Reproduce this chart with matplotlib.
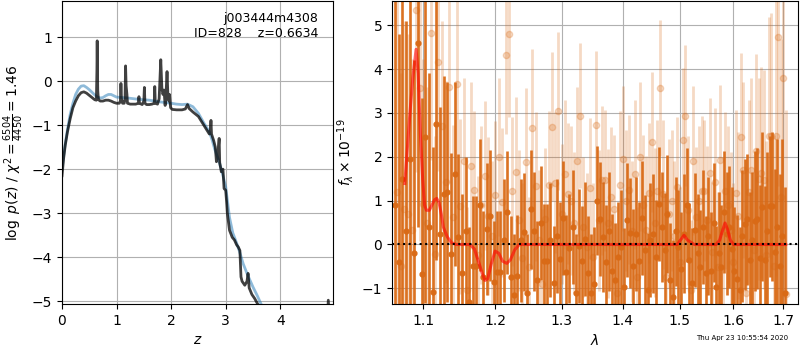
import matplotlib
matplotlib.use("Agg")
import matplotlib.pyplot as plt
from matplotlib.ticker import NullLocator, FixedLocator, FixedFormatter

# ---------------- left panel: log p(z) ----------------
z_pz = [0.00, 0.03, 0.06, 0.10, 0.15, 0.20, 0.25, 0.30, 0.35, 0.40, 0.45, 0.50, 0.55, 0.60, 0.63,
        0.64, 0.645, 0.65, 0.655, 0.66, 0.67, 0.70, 0.75, 0.80, 0.85, 0.90, 0.95, 1.00, 1.05, 1.07,
        1.08, 1.09, 1.11, 1.14, 1.155, 1.165, 1.175, 1.19, 1.20, 1.25, 1.30, 1.35, 1.40, 1.41, 1.42,
        1.47, 1.50, 1.51, 1.52, 1.55, 1.60, 1.65, 1.69, 1.70, 1.71, 1.75, 1.78, 1.81, 1.83, 1.85,
        1.87, 1.89, 1.91, 1.925, 1.94, 1.96, 1.97, 1.99, 2.02, 2.10, 2.20, 2.26, 2.30, 2.33, 2.40,
        2.50, 2.60, 2.65, 2.70, 2.72, 2.73, 2.74, 2.78, 2.81, 2.83, 2.86, 2.88, 2.89, 2.92, 2.95,
        2.97, 3.00, 3.02, 3.03, 3.07, 3.12, 3.16, 3.20, 3.23, 3.26, 3.28, 3.30, 3.35, 3.39, 3.41,
        3.43, 3.48, 3.53, 3.60, 3.70, 4.00, 4.50, 4.85, 4.88, 4.91, 5.00]
logp_pz = [-2.15, -1.75, -1.45, -1.15, -0.85, -0.60, -0.45, -0.33, -0.26, -0.24, -0.27, -0.32, -0.37, -0.42, -0.43,
           0.25, 0.92, 0.30, -0.20, -0.30, -0.42, -0.45, -0.45, -0.43, -0.43, -0.45, -0.48, -0.50, -0.50, -0.45,
           -0.05, -0.40, -0.50, -0.50, -0.40, 0.35, -0.10, -0.30, -0.50, -0.52, -0.52, -0.52, -0.50, -0.35, -0.50,
           -0.53, -0.45, -0.14, -0.50, -0.53, -0.53, -0.52, -0.50, -0.12, -0.50, -0.52, -0.40, 0.49, -0.15, -0.30,
           -0.20, -0.55, -0.20, 0.22, -0.30, -0.45, -0.30, -0.60, -0.64, -0.65, -0.65, -0.63, -0.53, -0.62, -0.70,
           -0.80, -1.00, -1.10, -1.20, -1.10, -0.89, -1.20, -1.35, -1.50, -1.83, -1.60, -1.30, -1.85, -2.06, -2.00,
           -2.44, -2.48, -2.80, -3.00, -3.39, -3.55, -3.61, -3.72, -3.77, -3.85, -4.45, -4.55, -4.64, -4.55, -4.37,
           -4.70, -4.85, -4.94, -5.10, -5.40, -5.80, -6.00, -5.80, -4.98, -5.60, -6.00]

z_prior = [0.00, 0.05, 0.10, 0.15, 0.20, 0.25, 0.30, 0.35, 0.40, 0.45, 0.50, 0.55, 0.60, 0.65, 0.70,
           0.75, 0.80, 0.85, 0.90, 0.95, 1.00, 1.20, 1.40, 1.60, 1.80, 2.00, 2.10, 2.20, 2.30, 2.40,
           2.50, 2.60, 2.70, 2.75, 2.80, 2.87, 2.93, 3.00, 3.04, 3.07, 3.13, 3.20, 3.26, 3.32, 3.40,
           3.50, 3.58, 3.66, 3.80, 4.00, 5.00]
logp_prior = [-2.00, -1.50, -1.10, -0.75, -0.50, -0.30, -0.18, -0.11, -0.10, -0.14, -0.19, -0.25, -0.31, -0.36, -0.38,
              -0.37, -0.33, -0.30, -0.30, -0.33, -0.36, -0.38, -0.41, -0.43, -0.47, -0.50, -0.52, -0.53, -0.52, -0.58,
              -0.73, -0.95, -1.15, -1.33, -1.55, -1.79, -2.05, -2.40, -2.80, -3.10, -3.45, -3.68, -3.90, -4.15, -4.40,
              -4.68, -4.88, -5.10, -5.50, -6.00, -7.00]

pz_xticks = [0, 1, 2, 3, 4]
pz_yticks = [-5, -4, -3, -2, -1, 0, 1]

# ---------------- right panel: spectrum ----------------
wave_a = [1.0625, 1.0675, 1.0725, 1.0775, 1.0825, 1.0875, 1.0925, 1.0975, 1.1025, 1.1075,
          1.1125, 1.1175, 1.1225, 1.1275, 1.1325, 1.1375, 1.1425, 1.1475, 1.1525, 1.1575,
          1.1625, 1.1675, 1.1725, 1.1775, 1.1825, 1.1875, 1.1925, 1.1975, 1.2025, 1.2075,
          1.2125, 1.2175, 1.2225, 1.2275, 1.2325, 1.2375, 1.2425, 1.2475, 1.2525, 1.2575,
          1.2625, 1.2675, 1.2725, 1.2775, 1.2825, 1.2875, 1.2925, 1.2975, 1.3025, 1.3075,
          1.3125, 1.3175, 1.3225, 1.3275, 1.3325, 1.3375, 1.3425, 1.3475, 1.3525, 1.3575,
          1.3625, 1.3675, 1.3725, 1.3775, 1.3825, 1.3875, 1.3925, 1.3975, 1.4025, 1.4075,
          1.4125, 1.4175, 1.4225, 1.4275, 1.4325, 1.4375, 1.4425, 1.4475, 1.4525, 1.4575,
          1.4625, 1.4675, 1.4725, 1.4775, 1.4825, 1.4875, 1.4925, 1.4975, 1.5025, 1.5075,
          1.5125, 1.5175, 1.5225, 1.5275, 1.5325, 1.5375, 1.5425, 1.5475, 1.5525, 1.5575,
          1.5625, 1.5675, 1.5725, 1.5775, 1.5825, 1.5875, 1.5925, 1.5975, 1.6025, 1.6075,
          1.6125, 1.6175, 1.6225, 1.6275, 1.6325, 1.6375, 1.6425, 1.6475, 1.6525, 1.6575,
          1.6625, 1.6675, 1.6725, 1.6775, 1.6825, 1.6875, 1.6925, 1.6975, 1.7025]
flux_a = [0.9, -0.4, 1.5, 0.3, 1.96, -0.2, 4.6, -0.67, 2.46, 0.4,
          -1.08, 2.75, 0.23, 1.15, 1.2, -0.22, 1.6, 0.17, -0.66, 0.3,
          -1.3, -0.5, -0.5, 0.9, -0.74, 0.35, 0.66, -0.86, -0.63, -0.63,
          0.1, 0.73, -0.74, -1.15, -0.72, 0.1, 0.28, -1.1, 0.8, 0.3,
          -0.81, 0.5, -0.38, -0.38, 0.1, -0.88, 0.2, -0.34, 0.6, -0.62,
          -0.09, 0.4, -1.1, -0.04, -0.38, 0.13, -0.66, -1.1, -0.89, 1.0,
          0.59, 0.17, -0.4, 0.3, -0.6, -0.8, -0.29, -0.06, -0.97, 0.55,
          0.26, -0.5, 0.25, -0.38, 0.6, -0.13, -1.04, 0.1, 0.25, -0.28,
          0.93, 0.4, -0.13, 0.7, -0.81, -1.19, 0.3, -0.06, -0.57, 0.25,
          0.89, -0.36, -0.88, 0.32, -0.2, -0.51, 0.4, -0.66, 0.2, -0.6,
          0.5, -0.98, -0.2, -0.51, 0.74, 0.25, 0.4, -0.1, -0.6, -0.78,
          -1.04, 0.2, 0.46, 0.57, -0.36, 0.1, 0.53, 0.59, -0.3, 0.86,
          -0.36, 0.3, 0.87, 0.87, -0.17, 0.4, -0.5, 0.2, -1.1]
err_a = [5.5, 5.2, 5.0, 4.8, 4.6, 4.4, 4.2, 4.0, 3.8, 3.5,
         3.3, 3.1, 2.9, 2.7, 2.5, 2.3, 2.1, 1.9, 1.8, 1.7,
         1.7, 1.6, 1.6, 1.5, 1.5, 1.5, 1.5, 1.4, 1.4, 1.4,
         1.4, 1.4, 1.4, 1.4, 1.4, 1.4, 1.35, 1.35, 1.35, 1.35,
         1.35, 1.3, 1.3, 1.3, 1.3, 1.3, 1.3, 1.3, 1.3, 1.3,
         1.25, 1.3, 1.35, 1.3, 1.25, 1.3, 1.3, 1.35, 1.3, 1.25,
         1.3, 1.25, 1.3, 1.35, 1.3, 1.3, 1.25, 1.3, 1.35, 1.3,
         1.25, 1.3, 1.3, 1.35, 1.3, 1.25, 1.3, 1.3, 1.35, 1.3,
         1.3, 1.25, 1.3, 1.35, 1.3, 1.3, 1.25, 1.3, 1.3, 1.35,
         1.3, 1.3, 1.25, 1.3, 1.35, 1.3, 1.3, 1.3, 1.35, 1.35,
         1.35, 1.4, 1.4, 1.4, 1.4, 1.4, 1.4, 1.4, 1.45, 1.45,
         1.45, 1.5, 1.5, 1.5, 1.55, 1.55, 1.6, 1.6, 1.65, 1.7,
         1.7, 1.8, 1.6, 1.7, 1.9, 2.0, 2.1, 2.2, 2.4]

wave_b = [1.065, 1.070, 1.075, 1.080, 1.085, 1.090, 1.095, 1.100, 1.105, 1.110,
          1.115, 1.120, 1.125, 1.130, 1.135, 1.140, 1.145, 1.150, 1.155, 1.160,
          1.165, 1.170, 1.175, 1.180, 1.185, 1.190, 1.195, 1.200, 1.205, 1.210,
          1.215, 1.220, 1.225, 1.230, 1.235, 1.240, 1.245, 1.250, 1.255, 1.260,
          1.265, 1.270, 1.275, 1.280, 1.285, 1.290, 1.295, 1.300, 1.305, 1.310,
          1.315, 1.320, 1.325, 1.330, 1.335, 1.340, 1.345, 1.350, 1.355, 1.360,
          1.365, 1.370, 1.375, 1.380, 1.385, 1.390, 1.395, 1.400, 1.405, 1.410,
          1.415, 1.420, 1.425, 1.430, 1.435, 1.440, 1.445, 1.450, 1.455, 1.460,
          1.465, 1.470, 1.475, 1.480, 1.485, 1.490, 1.495, 1.500, 1.505, 1.510,
          1.515, 1.520, 1.525, 1.530, 1.535, 1.540, 1.545, 1.550, 1.555, 1.560,
          1.565, 1.570, 1.575, 1.580, 1.585, 1.590, 1.595, 1.600, 1.605, 1.610,
          1.615, 1.620, 1.625, 1.630, 1.635, 1.640, 1.645, 1.650, 1.655, 1.660,
          1.665, 1.670, 1.675, 1.680, 1.685, 1.690, 1.695, 1.700, 1.705]
flux_b = [1.2, -0.5, 0.8, 0.7, 0.32, 5.35, 3.57, 0.93, 0.48, 4.83,
          -0.22, 4.17, 2.7, 1.42, 3.6, 0.62, 3.66, 0.87, 1.9, -1.04,
          1.8, 1.25, -0.24, 0.9, 1.57, 0.64, 0.2, 1.12, 2.0, 0.96,
          4.32, 4.8, 1.21, 1.66, 0.55, -0.3, 1.87, -0.51, 2.65, 1.33,
          0.1, -0.89, 0.59, 1.35, 2.69, 1.41, 3.05, 0.7, 1.6, 1.16,
          1.0, 0.5, 1.9, 2.94, 0.4, -0.06, 1.28, -0.29, 2.72, 0.55,
          1.46, 1.46, 0.48, 1.08, 0.8, -1.1, 1.35, 1.96, 1.0, 1.25,
          0.3, 1.6, -0.74, 2.0, 0.9, 0.32, 1.18, 2.34, 0.5, 1.23,
          3.57, 1.14, -0.74, 0.7, 1.0, 0.2, 1.3, -0.4, 2.38, 2.94,
          0.78, -1.04, 1.91, 0.62, 1.0, 1.23, 1.23, 0.55, 1.64, -0.17,
          1.42, -0.51, 1.93, 0.3, 1.23, 0.9, 0.32, -0.4, 1.17, 0.66,
          2.46, 1.7, -1.1, 1.19, 1.7, -0.13, 2.14, 1.5, 1.64, 1.48,
          -0.24, 2.48, 2.48, -0.5, 2.48, 4.73, 1.08, 3.8, -1.13]
err_b = [4.5, 4.4, 4.3, 4.1, 3.9, 3.7, 3.5, 3.3, 3.1, 2.9,
         2.7, 2.5, 2.4, 2.3, 2.2, 2.1, 2.0, 2.0, 1.9, 1.9,
         1.9, 1.8, 1.8, 1.8, 1.7, 1.8, 1.7, 1.7, 1.8, 1.7,
         1.8, 1.9, 1.7, 1.7, 1.6, 1.7, 1.7, 1.6, 1.8, 1.7,
         1.6, 1.7, 1.6, 1.7, 1.7, 1.6, 1.8, 1.6, 1.7, 1.6,
         1.7, 1.6, 1.7, 1.65, 1.6, 1.7, 1.6, 1.7, 1.7, 1.6,
         1.7, 1.6, 1.7, 1.6, 1.7, 1.6, 1.7, 1.65, 1.6, 1.7,
         1.6, 1.7, 1.6, 1.7, 1.6, 1.7, 1.6, 1.6, 1.7, 1.6,
         1.55, 1.7, 1.6, 1.7, 1.6, 1.7, 1.6, 1.7, 1.65, 1.6,
         1.7, 1.6, 1.7, 1.6, 1.7, 1.7, 1.6, 1.7, 1.7, 1.6,
         1.7, 1.7, 1.7, 1.7, 1.8, 1.8, 1.8, 1.8, 1.9, 1.9,
         1.9, 2.0, 2.0, 2.1, 2.1, 2.2, 2.2, 2.3, 2.4, 2.5,
         2.6, 2.7, 2.8, 3.0, 3.2, 3.4, 3.6, 3.9, 4.2]

model_wave = [1.0755, 1.0818, 1.0860, 1.0903, 1.0930, 1.0960, 1.0990, 1.1015, 1.1040, 1.1080,
              1.1120, 1.1150, 1.1179, 1.1210, 1.1240, 1.1268, 1.1320, 1.1380, 1.1450, 1.1636,
              1.1700, 1.1760, 1.1810, 1.1850, 1.1890, 1.1940, 1.1996, 1.2050, 1.2105, 1.2167,
              1.2220, 1.2285, 1.2353, 1.3000, 1.4000, 1.4953, 1.5000, 1.5076, 1.5140, 1.5264,
              1.5673, 1.5740, 1.5790, 1.5843, 1.5890, 1.5945, 1.6005, 1.6500, 1.7050]
model_flux = [1.39, 2.90, 3.80, 4.45, 3.90, 2.52, 1.50, 0.90, 0.78, 0.78,
              0.92, 1.02, 1.05, 0.95, 0.70, 0.40, 0.18, 0.04, 0.00, 0.00,
              -0.10, -0.40, -0.65, -0.82, -0.78, -0.45, -0.15, -0.20, -0.38, -0.43,
              -0.35, -0.12, 0.00, 0.00, 0.00, 0.00, 0.08, 0.21, 0.10, 0.00,
              0.00, 0.10, 0.30, 0.49, 0.35, 0.10, 0.00, 0.00, 0.00]

spec_xticks = [1.1, 1.2, 1.3, 1.4, 1.5, 1.6, 1.7]
spec_yticks = [-1, 0, 1, 2, 3, 4, 5]

label_text = "j003444m4308\nID=828    z=0.6634"
stamp_text = "Thu Apr 23 10:55:54 2020"

fig = plt.figure(figsize=(8, 3.5), dpi=100)
ax1 = fig.add_axes([0.0775, 0.131, 0.339, 0.866])
ax2 = fig.add_axes([0.49, 0.131, 0.5075, 0.866])

# left panel
ax1.plot(z_prior, logp_prior, color='#1f77b4', alpha=0.5, lw=2)
ax1.plot(z_pz, logp_pz, color='k', alpha=0.75, lw=2)
ax1.set_xlim(0, 4.97)
ax1.set_ylim(-5.07, 1.825)
ax1.set_xticks(pz_xticks)
ax1.set_yticks(pz_yticks)
ax1.grid(True)
ax1.set_xlabel('$z$')
ax1.set_ylabel(r'$\log\ p(z)$' + ' / ' + r'$\chi^2=\frac{6504}{4450}=1.46$')
ax1.text(0.945, 0.965, label_text, ha='right', va='top', transform=ax1.transAxes,
         fontsize=9, multialignment='right')

# right panel
col = '#d96a16'
ax2.errorbar(wave_b, flux_b, yerr=err_b, color=col, alpha=0.25, marker='o', ms=4.5,
             linestyle='None', elinewidth=2.0)
ax2.errorbar(wave_a, flux_a, yerr=err_a, color=col, alpha=0.95, marker='o', ms=3.5,
             linestyle='None', elinewidth=1.9)
ax2.plot(model_wave, model_flux, color='r', alpha=0.6, lw=2.2, zorder=5)
ax2.set_xscale('log')
ax2.set_xlim(1.059, 1.7305)
ax2.set_ylim(-1.36, 5.55)
ax2.axhline(0, color='k', linestyle=':', lw=1.5, zorder=6)
ax2.xaxis.set_major_locator(FixedLocator(spec_xticks))
ax2.xaxis.set_major_formatter(FixedFormatter([f'{v:.1f}' for v in spec_xticks]))
ax2.xaxis.set_minor_locator(NullLocator())
ax2.set_yticks(spec_yticks)
ax2.grid(True)
ax2.set_xlabel(r'$\lambda$')
ax2.set_ylabel(r'$f_\lambda\times10^{-19}$')

fig.text(0.985, 0.025, stamp_text, ha='right', va='bottom', fontsize=5)

fig.savefig('out.png', dpi=100)
